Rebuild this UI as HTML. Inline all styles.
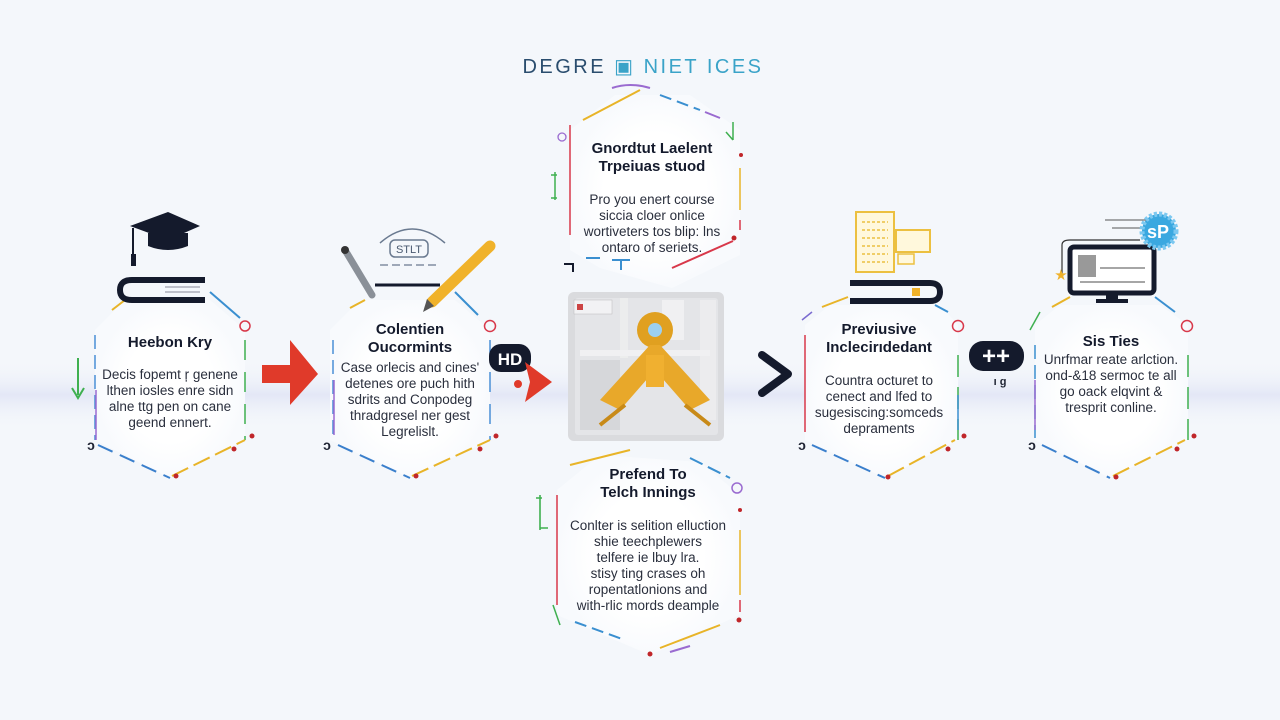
<!DOCTYPE html>
<html><head><meta charset="utf-8"><style>
html,body{margin:0;padding:0;width:1280px;height:720px;overflow:hidden;background:#f4f7fb;}
svg{display:block}
text{font-family:"Liberation Sans",sans-serif;fill:#1f2433;text-anchor:middle}
.t{font-weight:bold;font-size:15px;fill:#141a2c}
.b{font-size:13.5px;fill:#2a2f3d}
</style></head><body>
<svg width="1280" height="720" viewBox="0 0 1280 720">
<defs>
<linearGradient id="band" x1="0" y1="0" x2="0" y2="1">
<stop offset="0" stop-color="#f4f7fb" stop-opacity="0"/>
<stop offset="0.5" stop-color="#dfe3f5"/>
<stop offset="1" stop-color="#f4f7fb" stop-opacity="0"/>
</linearGradient>
<radialGradient id="nodebg"><stop offset="0.6" stop-color="#fff"/><stop offset="1" stop-color="#f8fafd"/></radialGradient>
</defs>
<rect width="1280" height="720" fill="#f4f7fb"/>
<rect x="0" y="360" width="1280" height="70" fill="url(#band)" opacity="0.8"/>

<text x="643" y="73" style="font-size:20px;letter-spacing:2.5px;fill:#2a4d6e"><tspan>DEGRE</tspan><tspan style="fill:#3aa3c8"> ▣ NIET ICES</tspan></text>

<!-- Node 1 -->
<g>
<polygon points="125,300 210,300 245,330 245,440 170,478 95,440 95,330" fill="url(#nodebg)"/>
<path d="M112,310 L125,300" stroke="#e8b428" stroke-width="2"/>
<path d="M210,292 L240,318" stroke="#3a8fd0" stroke-width="2"/>
<path d="M95,335 V440" stroke="#4a8fd6" stroke-width="1.5" stroke-dasharray="14 6"/>
<path d="M96,390 V440" stroke="#9a6bd0" stroke-width="1.5"/>
<path d="M245,340 V440" stroke="#3fb050" stroke-width="1.5" stroke-dasharray="20 12"/>
<path d="M98,445 L170,478" stroke="#3a7fcc" stroke-width="2" stroke-dasharray="16 8"/>
<path d="M172,476 L245,440" stroke="#e8b428" stroke-width="2" stroke-dasharray="18 6"/>
<circle cx="176" cy="476" r="2.5" fill="#c0262a"/><circle cx="234" cy="449" r="2.5" fill="#c0262a"/><circle cx="252" cy="436" r="2.5" fill="#c0262a"/>
<circle cx="245" cy="326" r="5" fill="none" stroke="#d8384a" stroke-width="1.5"/>
<path d="M78,358 V395 M72,388 L78,398 L84,388" stroke="#3fb050" stroke-width="2" fill="none"/>
<text x="91" y="450" style="font-size:14px;font-weight:bold">ɔ</text>
<text x="170" y="347" class="t">Heebon Kry</text>
<text x="170" y="379" class="b">Decis fopemt ŗ genene</text>
<text x="170" y="395" class="b">lthen iosles enre sidn</text>
<text x="170" y="411" class="b">alne ttg pen on cane</text>
<text x="170" y="427" class="b">geend ennert.</text>
<polygon points="130,226 168,212 200,226 168,240" fill="#141a2c"/>
<path d="M148,233 V246 Q168,254 188,246 V233" fill="#141a2c"/>
<path d="M133,228 V258" stroke="#141a2c" stroke-width="2"/><rect x="131" y="254" width="5" height="12" fill="#141a2c"/>
<path d="M205,280 H132 Q120,280 120,290 Q120,300 132,300 H205" fill="none" stroke="#141a2c" stroke-width="6"/>
<path d="M165,287 H200 M165,292 H200" stroke="#889" stroke-width="1"/>
</g>

<polygon points="262,365 290,365 290,340 318,374 290,405 290,383 262,383" fill="#e03a2a"/>

<!-- Node 2 -->
<g>
<polygon points="360,300 455,300 490,330 490,440 410,478 330,440 330,330" fill="url(#nodebg)"/>
<path d="M350,308 L365,300" stroke="#e8b428" stroke-width="2"/>
<path d="M455,292 L478,315" stroke="#3a8fd0" stroke-width="2"/>
<path d="M333,340 V440" stroke="#4a8fd6" stroke-width="1.5" stroke-dasharray="14 6"/>
<path d="M334,380 V435" stroke="#9a6bd0" stroke-width="1.5"/>
<path d="M490,340 V440" stroke="#4a8fd6" stroke-width="1.5" stroke-dasharray="20 12"/>
<path d="M338,445 L410,478" stroke="#3a7fcc" stroke-width="2" stroke-dasharray="16 8"/>
<path d="M412,476 L490,440" stroke="#e8b428" stroke-width="2" stroke-dasharray="18 6"/>
<circle cx="416" cy="476" r="2.5" fill="#c0262a"/><circle cx="480" cy="449" r="2.5" fill="#c0262a"/><circle cx="496" cy="436" r="2.5" fill="#c0262a"/>
<circle cx="490" cy="326" r="5.5" fill="none" stroke="#d8384a" stroke-width="1.5"/>
<text x="327" y="450" style="font-size:14px;font-weight:bold">ɔ</text>
<text x="410" y="334" class="t">Colentien</text>
<text x="410" y="352" class="t">Oucormints</text>
<text x="410" y="372" class="b">Case orlecis and cines'</text>
<text x="410" y="388" class="b">detenes ore puch hith</text>
<text x="410" y="404" class="b">sdrits and Conpodeg</text>
<text x="410" y="420" class="b">thradgresel ner gest</text>
<text x="410" y="436" class="b">Legrelislt.</text>
<path d="M380,243 Q412,215 445,243" fill="none" stroke="#6a7a90" stroke-width="1.5"/>
<rect x="390" y="240" width="38" height="17" rx="5" fill="none" stroke="#6a7a90" stroke-width="1.5"/>
<text x="409" y="253" style="font-size:11px;fill:#4a5a70">STLT</text>
<path d="M380,265 H440" stroke="#6a7a90" stroke-width="1.2" stroke-dasharray="8 4"/>
<path d="M345,250 L372,295" stroke="#8a9098" stroke-width="7" stroke-linecap="round"/><circle cx="345" cy="250" r="4" fill="#333"/>
<path d="M375,285 H440" stroke="#141a2c" stroke-width="3"/>
<path d="M490,246 L432,302" stroke="#f0b22a" stroke-width="11" stroke-linecap="round"/>
<polygon points="427,299 434,306 423,312" fill="#555"/>
</g>

<rect x="489" y="344" width="42" height="28" rx="12" fill="#141a2c"/>
<text x="510" y="365" style="font-size:17px;font-weight:bold;fill:#fff">HD</text>
<polygon points="525,362 552,382 525,402 530,382" fill="#e03a2a"/>
<circle cx="518" cy="384" r="4" fill="#e03a2a"/>

<!-- top center node -->
<g>
<polygon points="570,130 615,95 690,95 740,130 740,255 672,288 600,268 570,250" fill="url(#nodebg)"/>
<path d="M583,120 L640,90" stroke="#e8b428" stroke-width="2"/>
<path d="M612,88 Q630,82 650,88" stroke="#9a6bd0" stroke-width="2" fill="none"/>
<path d="M660,95 L700,110" stroke="#3a8fd0" stroke-width="2" stroke-dasharray="12 6"/>
<path d="M705,112 L720,118" stroke="#9a6bd0" stroke-width="2"/>
<path d="M733,122 V140 M726,132 L733,140" stroke="#3fb050" stroke-width="1.5" fill="none"/>
<path d="M570,125 V235" stroke="#d8384a" stroke-width="1.5"/>
<circle cx="562" cy="137" r="4" fill="none" stroke="#9a6bd0" stroke-width="1.3"/>
<path d="M555,172 V200 M551,175 H557 M551,198 H557" stroke="#3fb050" stroke-width="1.5"/>
<path d="M740,168 V210" stroke="#e8b428" stroke-width="1.5"/>
<path d="M740,220 V230" stroke="#d8384a" stroke-width="1.5"/>
<circle cx="741" cy="155" r="2" fill="#c0262a"/><circle cx="734" cy="238" r="2.5" fill="#c0262a"/>
<path d="M733,241 L672,268" stroke="#d8384a" stroke-width="2"/>
<path d="M586,258 H600 M612,260 H630 M621,260 V270" stroke="#3a8fd0" stroke-width="2"/>
<path d="M564,264 H573 V272" stroke="#141a2c" stroke-width="2" fill="none"/>
<text x="652" y="153" class="t">Gnordtut Laelent</text>
<text x="652" y="171" class="t">Trpeiuas stuod</text>
<text x="652" y="204" class="b">Pro you enert course</text>
<text x="652" y="220" class="b">siccia cloer onlice</text>
<text x="652" y="236" class="b">wortiveters tos blip: lns</text>
<text x="652" y="252" class="b">ontaro of seriets.</text>
</g>

<rect x="568" y="292" width="156" height="149" rx="6" fill="#dadbde"/>
<rect x="575" y="298" width="143" height="137" rx="3" fill="#e4e5e8"/>
<rect x="574" y="300" width="38" height="14" fill="#f2f2f4" stroke="#bbb" stroke-width="0.5"/>
<rect x="577" y="304" width="6" height="6" fill="#c44"/>
<rect x="620" y="298" width="8" height="60" fill="#eceded"/><rect x="662" y="300" width="22" height="40" fill="#f0f0f2"/>
<rect x="700" y="300" width="16" height="120" fill="#ececee"/>
<rect x="580" y="350" width="130" height="6" fill="#f0f0f2"/>
<rect x="580" y="360" width="40" height="70" fill="#d6d7da"/>
<circle cx="655" cy="330" r="18" fill="#e0a020"/>
<circle cx="655" cy="330" r="7" fill="#9cd0f0"/>
<path d="M650,345 L600,400 L620,410 L655,370 L690,410 L710,400 L660,345 Z" fill="#e8a82a"/>
<rect x="646" y="355" width="18" height="32" fill="#f0b030"/>
<path d="M600,425 L625,405 M710,425 L685,405" stroke="#c88a18" stroke-width="4"/>

<!-- bottom center node -->
<g>
<polygon points="557,490 600,455 700,462 740,495 740,615 650,655 557,615" fill="url(#nodebg)"/>
<path d="M570,465 L630,450" stroke="#e8b428" stroke-width="2"/>
<path d="M690,458 L730,478" stroke="#3a8fd0" stroke-width="2" stroke-dasharray="14 6"/>
<circle cx="737" cy="488" r="5" fill="none" stroke="#9a6bd0" stroke-width="1.5"/>
<path d="M557,495 V605" stroke="#d8384a" stroke-width="1.5"/>
<path d="M540,495 V530 M536,498 H542 M540,528 H548" stroke="#3fb050" stroke-width="1.6"/>
<path d="M740,530 V595" stroke="#e8b428" stroke-width="1.5"/>
<path d="M740,600 V612" stroke="#d8384a" stroke-width="1.5"/><circle cx="739" cy="620" r="2.5" fill="#c0262a"/>
<circle cx="740" cy="510" r="2" fill="#c0262a"/>
<path d="M575,622 L625,640" stroke="#3a8fd0" stroke-width="2" stroke-dasharray="12 6"/>
<path d="M660,648 L720,625" stroke="#e8b428" stroke-width="2"/>
<path d="M670,652 L690,646" stroke="#9a6bd0" stroke-width="2"/>
<circle cx="650" cy="654" r="2.5" fill="#c0262a"/>
<path d="M553,605 L560,625" stroke="#3fb050" stroke-width="1.5"/>
<text x="648" y="479" class="t">Prefend To</text>
<text x="648" y="497" class="t">Telch Innings</text>
<text x="648" y="530" class="b">Conlter is selition elluction</text>
<text x="648" y="546" class="b">shie teechplewers</text>
<text x="648" y="562" class="b">telfere ie lbuy lra.</text>
<text x="648" y="578" class="b">stisy ting crases oh</text>
<text x="648" y="594" class="b">ropentatlonions and</text>
<text x="648" y="610" class="b">with-rlic mords deample</text>
</g>

<path d="M762,355 L788,374 L762,393" fill="none" stroke="#141a2c" stroke-width="8" stroke-linecap="round" stroke-linejoin="round"/>

<!-- Node 4 -->
<g>
<polygon points="830,305 940,305 958,325 958,440 885,478 805,440 805,325" fill="url(#nodebg)"/>
<path d="M822,307 L848,297" stroke="#e8b428" stroke-width="2"/>
<path d="M935,305 L948,312" stroke="#3a8fd0" stroke-width="2"/>
<path d="M805,335 V432" stroke="#d8384a" stroke-width="1.5"/>
<path d="M958,355 V440" stroke="#3fb050" stroke-width="1.5" stroke-dasharray="22 10"/>
<path d="M958,395 V430" stroke="#3a8fd0" stroke-width="1.5"/>
<path d="M812,445 L885,478" stroke="#3a7fcc" stroke-width="2" stroke-dasharray="16 8"/>
<path d="M888,476 L955,440" stroke="#e8b428" stroke-width="2" stroke-dasharray="18 6"/>
<circle cx="888" cy="477" r="2.5" fill="#c0262a"/><circle cx="948" cy="449" r="2.5" fill="#c0262a"/><circle cx="964" cy="436" r="2.5" fill="#c0262a"/>
<circle cx="958" cy="326" r="5.5" fill="none" stroke="#d8384a" stroke-width="1.5"/>
<path d="M802,320 L812,312" stroke="#7a6bd0" stroke-width="1.5"/>
<text x="802" y="450" style="font-size:14px;font-weight:bold">ɔ</text>
<text x="879" y="334" class="t">Previusive</text>
<text x="879" y="352" class="t">Inclecirıdedant</text>
<text x="879" y="385" class="b">Countra octuret to</text>
<text x="879" y="401" class="b">cenect and lfed to</text>
<text x="879" y="417" class="b">sugesiscing:somceds</text>
<text x="879" y="433" class="b">depraments</text>
<rect x="856" y="212" width="38" height="60" fill="#fff8dc" stroke="#ecc040" stroke-width="2"/>
<path d="M862,222 H888 M862,230 H888 M862,238 H888 M862,246 H888 M862,254 H888 M862,262 H888" stroke="#ecc040" stroke-width="1.5" stroke-dasharray="3 2"/>
<rect x="896" y="230" width="34" height="22" fill="#fff8dc" stroke="#ecc040" stroke-width="2"/>
<rect x="898" y="254" width="16" height="10" fill="#fff8dc" stroke="#ecc040" stroke-width="1.5"/>
<path d="M850,283 H930 Q940,283 940,292 Q940,301 930,301 H850" fill="none" stroke="#141a2c" stroke-width="6"/>
<rect x="912" y="288" width="8" height="8" fill="#f0b22a"/>
</g>

<rect x="969" y="341" width="55" height="30" rx="14" fill="#141a2c"/>
<text x="996" y="364" style="font-size:24px;font-weight:bold;fill:#fff">++</text>
<text x="1000" y="385" style="font-size:11px;font-weight:bold">ı ɡ</text>

<!-- Node 5 -->
<g>
<polygon points="1060,305 1160,305 1188,325 1188,440 1110,478 1035,440 1035,325" fill="url(#nodebg)"/>
<path d="M1052,307 L1070,297" stroke="#e8b428" stroke-width="2"/>
<path d="M1155,297 L1175,312" stroke="#3a8fd0" stroke-width="2"/>
<path d="M1035,345 V438" stroke="#3a8fd0" stroke-width="1.5" stroke-dasharray="14 6"/>
<path d="M1035,380 V430" stroke="#9a6bd0" stroke-width="1.5"/>
<path d="M1188,355 V440" stroke="#3fb050" stroke-width="1.5" stroke-dasharray="22 10"/>
<path d="M1042,445 L1110,478" stroke="#3a7fcc" stroke-width="2" stroke-dasharray="16 8"/>
<path d="M1113,476 L1185,440" stroke="#e8b428" stroke-width="2" stroke-dasharray="18 6"/>
<circle cx="1116" cy="477" r="2.5" fill="#c0262a"/><circle cx="1177" cy="449" r="2.5" fill="#c0262a"/><circle cx="1194" cy="436" r="2.5" fill="#c0262a"/>
<circle cx="1187" cy="326" r="5.5" fill="none" stroke="#d8384a" stroke-width="1.5"/>
<path d="M1030,330 L1040,312" stroke="#3fb050" stroke-width="1.5"/>
<text x="1032" y="450" style="font-size:14px;font-weight:bold">ɔ</text>
<text x="1111" y="346" class="t">Sis Ties</text>
<text x="1111" y="364" class="b">Unrfmar reate arlction.</text>
<text x="1111" y="380" class="b">ond-&amp;18 sermoc te all</text>
<text x="1111" y="396" class="b">go oack elqvint &amp;</text>
<text x="1111" y="412" class="b">tresprit conline.</text>
<rect x="1070" y="247" width="84" height="46" rx="4" fill="#fff" stroke="#141a2c" stroke-width="5"/>
<rect x="1078" y="255" width="18" height="22" fill="#999"/>
<path d="M1100,268 H1145 M1080,282 H1145" stroke="#888" stroke-width="1.5"/>
<rect x="1106" y="293" width="12" height="6" fill="#141a2c"/>
<rect x="1096" y="299" width="32" height="4" fill="#141a2c"/>
<path d="M1062,275 V245 Q1062,240 1070,240 H1140" stroke="#333" stroke-width="1.2" fill="none"/>
<path d="M1105,220 H1150 M1112,228 H1145" stroke="#555" stroke-width="1"/>
<text x="1061" y="280" style="font-size:15px;fill:#f0b22a">★</text>
<circle cx="1159" cy="231" r="17" fill="#3aa8e0" stroke="#7cc8f0" stroke-width="5" stroke-dasharray="3 2"/>
<text x="1158" y="238" style="font-size:18px;font-weight:bold;fill:#fff">sP</text>
</g>
</svg>
</body></html>
